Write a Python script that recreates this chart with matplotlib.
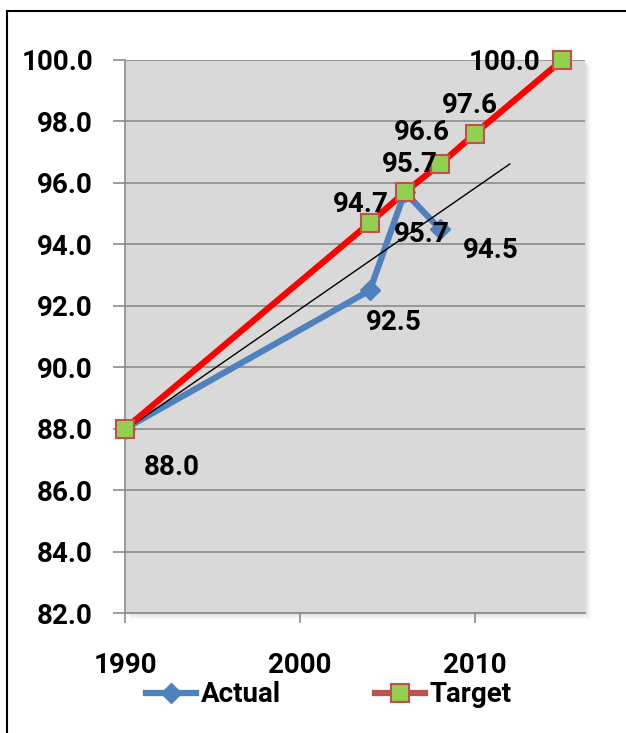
import numpy as np
import matplotlib
matplotlib.use("Agg")
import matplotlib.pyplot as plt
from matplotlib.lines import Line2D
import matplotlib.patches as mpatches

# Series data
actual_years = [1990, 2004, 2006, 2008]
actual_values = [88.0, 92.5, 95.7, 94.5]
target_years = [1990, 2004, 2006, 2008, 2010, 2015]
target_values = [88.0, 94.7, 95.7, 96.6, 97.6, 100.0]
x_ticks = [1990, 2000, 2010]
y_ticks = [82, 84, 86, 88, 90, 92, 94, 96, 98, 100]
series_names = ["Actual", "Target"]

W, H, DPI = 626, 733, 100
FS = 20
plt.rcParams["font.family"] = ["Roboto", "DejaVu Sans"]
plt.rcParams["font.weight"] = "bold"

fig = plt.figure(figsize=(W / DPI, H / DPI), dpi=DPI)
fig.patch.set_facecolor("white")

# outer frame (top and left edges)
fig.add_artist(Line2D([7 / W, 1.0], [1 - 11 / H, 1 - 11 / H], color="black", lw=1.5,
                      transform=fig.transFigure))
fig.add_artist(Line2D([7 / W, 7 / W], [0, 1 - 11 / H], color="black", lw=1.5,
                      transform=fig.transFigure))

left, right, top, bottom = 125 / W, 585 / W, 1 - 60 / H, 1 - 613 / H
# soft shadow behind the plot area
for i, a in enumerate([0.05, 0.04, 0.03]):
    off = (i + 1) * 2
    fig.add_artist(mpatches.Rectangle((left + off / W, bottom - off / H), right - left, top - bottom,
                                      transform=fig.transFigure, facecolor="black", alpha=a,
                                      edgecolor="none", zorder=0))
ax = fig.add_axes([left, bottom, right - left, top - bottom])
ax.set_facecolor("#d9d9d9")
ax.set_xlim(1990, 2016.3)
ax.set_ylim(82, 100)

grid_color = "#8c8c8c"
for spine in ["top", "right"]:
    ax.spines[spine].set_visible(False)
for spine in ["left", "bottom"]:
    ax.spines[spine].set_color(grid_color)
    ax.spines[spine].set_linewidth(1.2)
ax.yaxis.grid(True, color=grid_color, lw=1.2)
ax.set_axisbelow(True)

ax.set_yticks(y_ticks)
ax.set_yticklabels([f"{v:.1f}" for v in y_ticks])
ax.set_xticks(x_ticks)
ax.set_xticklabels([str(v) for v in x_ticks])
ax.tick_params(axis="y", length=9, width=1.2, color=grid_color, pad=14, labelsize=FS)
ax.tick_params(axis="x", length=7, width=1.2, color=grid_color, pad=21, labelsize=FS)
for lab in ax.get_xticklabels() + ax.get_yticklabels():
    lab.set_fontweight("bold")

# linear trend of the actual series, extended four years ahead
slope, intercept = np.polyfit(actual_years, actual_values, 1)
tx = np.array([actual_years[0], actual_years[-1] + 4])
ax.plot(tx, slope * tx + intercept, color="black", lw=1, zorder=3, clip_on=False)

ax.plot(actual_years, actual_values, color="#4f81bd", lw=4.5, marker="D", ms=10,
        markerfacecolor="#4f81bd", markeredgecolor="#4f81bd", zorder=2, clip_on=False)
ax.plot(target_years, target_values, color="#ff0000", lw=4.5, marker="s", ms=13,
        markerfacecolor="#92d050", markeredgecolor="#c0504d", markeredgewidth=1.5,
        zorder=4, clip_on=False)

# data labels (pixel offsets from each point)
actual_offsets = [(47, -39), (24, -32), (17, -42), (51, -22)]
target_offsets = [None, (-9, 18), (5, 28), (-18, 32), (-5, 28), (-58, -3)]
for x, y, off in zip(actual_years, actual_values, actual_offsets):
    ax.annotate(f"{y:.1f}", (x, y), xytext=off, textcoords="offset pixels",
                ha="center", va="center", fontsize=FS, fontweight="bold", zorder=6,
                annotation_clip=False)
for x, y, off in zip(target_years, target_values, target_offsets):
    if off is None:
        continue
    ax.annotate(f"{y:.1f}", (x, y), xytext=off, textcoords="offset pixels",
                ha="center", va="center", fontsize=FS, fontweight="bold", zorder=6,
                annotation_clip=False)

handles = [
    Line2D([], [], color="#4f81bd", lw=4.5, marker="D", ms=10, markerfacecolor="#4f81bd",
           markeredgecolor="#4f81bd"),
    Line2D([], [], color="#c0504d", lw=4.5, marker="s", ms=13, markerfacecolor="#92d050",
           markeredgecolor="#c0504d", markeredgewidth=1.5),
]
leg = fig.legend(handles, series_names, loc="center", bbox_to_anchor=(329 / W, 1 - 695 / H),
                 ncol=2, frameon=False, prop={"size": FS, "weight": "bold"},
                 handlelength=1.8, handletextpad=0.15, columnspacing=3.4)

fig.savefig("out.png", dpi=DPI)
